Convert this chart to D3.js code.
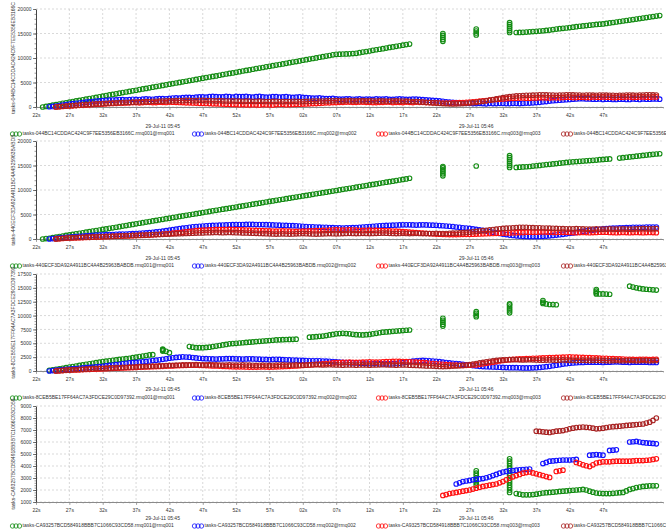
<!DOCTYPE html>
<html>
<head>
<meta charset="utf-8">
<script src="https://cdn.jsdelivr.net/npm/d3@7"></script>
<style>
  html, body { margin: 0; padding: 0; background: #fff; }
  svg { display: block; font-family: "Liberation Sans", Arial, sans-serif; }
</style>
</head>
<body>
<svg id="chart" width="666" height="532"></svg>
<script>
// Queue depth per broker node, sampled twice a second from 05:45:22.
// For every series, the plain array holds the readings taken on the whole
// second (beginning at its "start" second) and the "h" array holds the
// readings taken half a second later; null marks a missing reading.

const queueNames = [
  "tasks-044BC14CDDAC424C9F7EE5356EB3166C",
  "tasks-440ECF3DA92A4911BC4A4B25963BABDB",
  "tasks-8CEB5BE17FF64AC7A3FDCE29C0D97392",
  "tasks-CA93257BCD584918BBB7C1066C93CD58"
];
const nodeNames = ["rmq001", "rmq002", "rmq003", "rmq004"];
const nodeColors = ["#138c13", "#1010ff", "#ff1010", "#a82222"];

const xTickSeconds = [0, 5, 10, 15, 20, 25, 30, 35, 40, 45, 50, 55, 60, 65, 70, 75, 80, 85];
const yTicks1 = [0, 5000, 10000, 15000, 20000];
const yTicks2 = [0, 5000, 10000, 15000, 20000];
const yTicks3 = [0, 2500, 5000, 7500, 10000, 12500, 15000, 17500];
const yTicks4 = [1000, 2000, 3000, 4000, 5000, 6000, 7000, 8000, 9000];

// ---- queue 1 ----
const q1Start = [1, 2, 3, 3];
const q1Node1 = [0,250,480,740,980,1230,1460,1720,1950,2200,
  2460,2690,2950,3180,3420,3690,3920,4170,4400,4660,
  4900,5130,5390,5620,5880,6120,6350,6610,6850,7080,
  7350,7570,7840,8060,8320,8560,8790,9050,9280,9540,
  9790,10010,10280,10510,10760,10820,10850,10950,11200,11430,
  11680,11900,12150,12390,12620,12850,
  null,null,null,null,null,null,null,null,null,null,null,null,null,null,null,
  15200,15250,15350,15450,15550,15700,15900,16050,16200,16400,
  16550,16700,16850,16950,17150,17350,17550,17750,17950,18150,
  18350,18550];
const q1Node1h = [120,370,610,860,1100,1350,1590,1830,2080,2330,
  2570,2820,3060,3300,3560,3800,4040,4290,4530,4780,
  5010,5260,5500,5750,6000,6230,6480,6730,6960,7210,
  7460,7700,7950,8190,8440,8670,8920,9160,9410,9660,
  9900,10150,10390,10640,10790,10830,10900,11080,11310,11560,
  11790,12030,12270,12500,12740,null,
  null,null,null,null,null,null,null,null,null,null,null,null,null,null,null,
  15220,15300,15400,15500,15620,15800,15980,16120,16300,16480,
  16620,16780,16900,17050,17250,17450,17650,17850,18050,18250,
  18450,18650];
const q1Node2 = [50,200,400,600,750,900,1050,1200,1300,
  1400,1450,1500,1500,1550,1600,1600,1650,1700,1750,
  1850,1900,1950,2000,2050,2100,2100,2050,2100,2150,
  2100,2050,2100,2050,2000,2100,2050,2000,2000,1950,
  1850,1800,1750,1700,1650,1600,1650,1600,1550,1600,
  1650,1600,1550,1600,1600,1550,1600,1500,1400,1300,
  1150,1000,900,800,750,700,700,750,700,750,
  700,750,750,800,900,1050,1200,1350,1450,1550,
  1650,1700,1650,1600,1550,1600,1550,1600,1550,1600,
  1650,1600,1650];
const q1Node2h = [120,300,500,680,820,980,1120,1250,1380,
  1420,1520,1450,1580,1520,1650,1580,1700,1680,1820,
  1800,1950,1900,2050,2000,2150,2050,2150,2000,2100,
  2150,2000,2150,2000,2100,2000,2100,1950,2050,1900,
  1800,1850,1700,1750,1600,1650,1580,1650,1600,1550,
  1600,1650,1550,1650,1550,1600,1550,1450,1350,1250,
  1050,950,850,750,700,750,650,700,750,700,
  750,700,800,850,950,1100,1300,1400,1500,1600,
  1700,1650,1600,1650,1600,1550,1600,1550,1650,1550,
  1600,1650,1600];
const q1Node3 = [0,100,200,300,400,450,550,600,
  700,750,800,850,900,900,950,900,950,1000,
  950,900,850,800,750,700,650,600,550,500,
  500,450,450,500,450,500,550,500,550,600,
  650,700,800,850,900,950,1000,950,1000,950,
  900,950,1000,950,900,950,1000,950,900,850,
  800,800,850,900,1000,1100,1250,1400,1550,1650,
  1750,1800,1850,1800,1850,1900,1850,1900,1950,2000,
  1950,2000,1950,2000,2050,2000,1950,2000,2050,2000,
  2050,2000,2050];
const q1Node3h = [50,150,250,350,420,500,580,650,
  720,800,820,900,850,950,900,980,920,980,
  920,850,820,750,720,650,620,550,520,480,
  450,480,420,480,420,520,480,520,580,620,
  700,750,850,900,950,1000,950,1000,950,900,
  950,1000,900,950,1000,900,950,900,850,820,
  780,830,880,950,1050,1180,1320,1480,1600,1700,
  1780,1820,1800,1850,1900,1880,1920,1900,2000,1950,
  2000,1950,2050,2000,2000,1950,2000,2050,1980,2050,
  2000,2050,null];
const q1Node4 = [0,150,250,350,450,550,650,700,
  800,850,900,950,1000,1050,1100,1150,1200,1250,
  1300,1300,1350,1300,1350,1300,1250,1250,1200,1200,
  1150,1200,1150,1150,1100,1150,1100,1100,1150,1100,
  1150,1200,1200,1250,1300,1250,1300,1250,1300,1250,
  1200,1250,1200,1250,1200,1150,1100,1000,900,800,
  700,650,650,700,800,950,1150,1400,1650,1900,
  2100,2250,2350,2400,2450,2500,2450,2400,2450,2500,
  2450,2400,2450,2400,2450,2400,2350,2400,2450,2400,
  2450,2500,2450];
const q1Node4h = [80,200,300,400,500,600,680,750,
  820,880,950,980,1050,1080,1150,1200,1230,1280,
  1320,1350,1300,1380,1300,1280,1300,1220,1230,1180,
  1180,1150,1180,1120,1130,1100,1120,1150,1080,1130,
  1180,1180,1230,1280,1270,1320,1270,1280,1230,1280,
  1230,1220,1230,1200,1180,1120,1050,950,850,750,
  680,620,680,750,880,1050,1280,1520,1780,2000,
  2180,2300,2380,2420,2480,2470,2430,2430,2480,2470,
  2430,2430,2420,2430,2420,2380,2380,2430,2420,2430,
  2480,2470,null];
// several node-1 readings logged within the same second
const q1Bursts = [
  [61, [13400, 13800, 14200, 14600, 15000]],
  [66, [14700, 15100, 15500, 15900]],
  [71, [15200, 15600, 16000, 16400, 16800, 17200]]
];

// ---- queue 2 ----
const q2Start = [1, 2, 3, 3];
const q2Node1 = [0,150,380,600,830,1050,1280,1500,1720,1950,
  2180,2400,2640,2870,3100,3330,3560,3800,4020,4260,
  4480,4710,4940,5170,5400,5630,5850,6080,6300,6520,
  6760,6990,7210,7440,7660,7890,8110,8340,8560,8790,
  9000,9230,9450,9680,9900,10130,10350,10580,10800,11030,
  11250,11480,11700,11930,12150,12400,
  null,null,null,null,null,null,null,null,null,null,null,null,null,null,null,
  14600,14700,14800,14950,15100,15250,15400,15550,15700,15800,
  15900,16000,16100,16250,16350,null,16600,16750,16900,17050,
  17200,17350];
const q2Node1h = [80,270,490,720,940,1170,1390,1610,1840,2060,
  2290,2520,2750,2980,3210,3450,3680,3910,4140,4370,
  4600,4830,5050,5280,5510,5740,5970,6190,6410,6640,
  6870,7100,7320,7550,7770,8000,8220,8450,8670,8900,
  9110,9340,9560,9790,10010,10240,10460,10690,10910,11140,
  11360,11590,11810,12040,12270,null,
  null,null,null,null,null,null,null,null,null,null,null,null,null,null,null,
  14650,14750,14880,15020,15180,15320,15480,15620,15750,15850,
  15950,16050,16180,16300,null,16520,16680,16820,16980,17120,
  17280,17400];
const q2Node2 = [0,150,300,400,500,600,700,800,850,
  900,950,1000,1050,1100,1200,1300,1450,1600,1800,
  2000,2200,2400,2550,2650,2750,2800,2850,2900,2950,
  2950,3000,2950,2950,2900,2850,2800,2750,2700,2600,
  2500,2450,2400,2350,2300,2250,2300,2350,2450,2550,
  2650,2750,2800,2850,2900,2900,2850,2900,2850,2800,
  2700,2600,2450,2300,2150,1950,1750,1500,1250,1000,
  800,650,550,500,500,550,650,800,950,1150,
  1350,1550,1750,1900,2050,2150,2250,2300,2350,2400,
  2400,2450,2450];
const q2Node2h = [80,220,350,450,550,650,750,820,880,
  920,980,1020,1080,1150,1250,1380,1520,1700,1900,
  2100,2300,2480,2600,2700,2780,2830,2880,2930,2960,
  2980,2970,2950,2920,2870,2820,2780,2720,2650,2550,
  2480,2420,2380,2320,2280,2280,2320,2400,2500,2600,
  2700,2780,2830,2880,2900,2880,2880,2870,2830,2750,
  2650,2530,2380,2220,2050,1850,1620,1380,1120,900,
  720,600,520,500,520,600,720,880,1050,1250,
  1450,1650,1820,1980,2100,2200,2280,2320,2380,2400,
  2430,2450,null];
const q2Node3 = [0,100,200,250,300,350,400,450,
  500,550,600,650,700,750,800,900,1000,1100,
  1250,1400,1550,1700,1800,1850,1900,1900,1950,1900,
  1850,1800,1750,1700,1650,1600,1650,1600,1550,1600,
  1650,1700,1750,1800,1850,1800,1850,1800,1750,1800,
  1750,1700,1650,1600,1500,1400,1300,1200,1100,1000,
  950,900,900,950,950,1000,1050,1100,1150,1200,
  1250,1300,1350,1400,1400,1450,1400,1350,1400,1350,
  1300,1350,1300,1350,1400,1350,1300,1350,1300,1350,
  1300,1350,1300];
const q2Node3h = [50,150,220,280,320,380,420,480,
  520,580,620,680,720,780,850,950,1050,1180,
  1320,1480,1620,1750,1820,1880,1900,1930,1920,1870,
  1820,1780,1720,1680,1620,1630,1620,1580,1580,1620,
  1680,1720,1780,1820,1820,1830,1820,1780,1780,1780,
  1720,1680,1620,1550,1450,1350,1250,1150,1050,980,
  920,900,920,950,980,1020,1080,1120,1180,1220,
  1280,1320,1380,1400,1420,1420,1380,1380,1380,1320,
  1320,1320,1320,1380,1380,1320,1320,1320,1320,1320,
  1320,1320,null];
const q2Node4 = [0,150,250,300,350,400,450,500,
  550,600,650,700,750,800,850,900,950,1000,
  1050,1100,1150,1200,1250,1300,1350,1300,1350,1300,
  1250,1200,1150,1100,1050,1000,1050,1000,1050,1100,
  1050,1000,1050,1100,1050,1100,1150,1100,1150,1100,
  1150,1200,1150,1100,1150,1100,1150,1100,1100,1150,
  1100,1150,1200,1300,1400,1550,1700,1850,2000,2150,
  2250,2350,2400,2350,2300,2250,2200,2150,2100,2050,
  2100,2050,2000,2050,2000,2050,2000,2050,2000,2050,
  2100,2050,2100];
const q2Node4h = [80,200,280,320,380,420,480,520,
  580,620,680,720,780,820,880,920,980,1020,
  1080,1120,1180,1220,1280,1320,1320,1320,1320,1280,
  1220,1180,1120,1080,1020,1020,1020,1020,1080,1080,
  1020,1020,1080,1080,1080,1120,1120,1120,1120,1120,
  1180,1180,1120,1120,1120,1120,1120,1100,1120,1120,
  1120,1180,1250,1350,1480,1620,1780,1920,2080,2200,
  2300,2380,2380,2320,2280,2220,2180,2120,2080,2080,
  2080,2020,2020,2020,2020,2020,2020,2020,2020,2080,
  2080,2080,null];
const q2Bursts = [
  [61, [12900, 13300, 13700, 14100, 14500, 14800]],
  [66, [14900]],
  [71, [14600, 15000, 15400, 15800, 16200, 16600, 17000]]
];

// ---- queue 3 ----
const q3Start = [2, 2, 3, 3];
const q3Node1 = [100,300,500,700,900,1100,1300,1500,1700,
  1850,2000,2150,2300,2500,2700,2900,null,3800,3300,
  null,null,4400,4200,4200,4300,4500,4700,4900,5000,
  5100,5200,5300,5400,5500,5600,5650,5700,5750,null,
  6100,6200,6300,6500,6700,6800,6700,6550,6500,6600,
  6800,7000,7100,7200,7300,7400,null,null,null,null,
  null,null,null,null,null,null,null,null,null,null,
  null,null,null,null,null,12200,12000,11950,null,null,
  null,null,null,13900,13900,13850,null,null,15300,15000,
  14800,14700,14600];
const q3Node1h = [200,400,600,800,1000,1200,1400,1600,1780,
  1920,2080,2220,2400,2600,2800,2950,null,3550,null,
  null,null,4300,4200,4250,4400,4600,4800,4950,5050,
  5150,5250,5350,5450,5550,5620,5680,5720,null,null,
  6150,6250,6400,6600,6750,6750,6620,6520,6550,6700,
  6900,7050,7150,7250,7350,null,null,null,null,null,
  null,null,null,null,null,null,null,null,null,null,
  null,null,null,null,null,12100,11980,null,null,null,
  null,null,null,13900,13880,null,null,null,15150,14900,
  14750,14650,null];
const q3Node2 = [0,150,250,350,450,550,650,750,850,
  1000,1150,1300,1450,1550,1650,1800,1950,2100,2300,
  2450,2550,2500,2350,2250,2200,2150,2200,2250,2200,
  2150,2200,2150,2100,2050,2100,2050,2000,1950,1900,
  1850,1850,1800,1750,1650,1550,1500,1450,1400,1350,
  1350,1300,1300,1350,1500,1700,1850,1900,1850,1750,
  1600,1450,1350,1200,1050,900,800,750,700,650,
  600,600,550,550,600,700,850,1050,1250,1400,
  1500,1550,1600,1600,1550,1600,1650,1600,1550,1600,
  1600,1550,1550];
const q3Node2h = [80,200,300,400,500,600,700,800,920,
  1080,1220,1380,1500,1600,1720,1880,2020,2200,2380,
  2500,2530,2420,2300,2230,2180,2180,2230,2230,2180,
  2180,2180,2130,2080,2080,2080,2030,1980,1930,1880,
  1850,1830,1780,1700,1600,1530,1480,1430,1380,1350,
  1330,1300,1330,1420,1600,1780,1880,1880,1800,1680,
  1530,1400,1280,1130,980,850,780,720,680,620,
  600,580,550,580,650,780,950,1150,1330,1450,
  1530,1580,1600,1580,1580,1630,1630,1580,1580,1600,
  1580,1550,null];
const q3Node3 = [0,80,150,200,250,300,350,400,
  450,500,550,600,650,700,750,800,850,900,
  950,1000,1050,1050,1000,950,900,850,800,750,
  750,700,700,750,700,750,800,850,900,1000,
  1100,1200,1300,1400,1500,1550,1600,1550,1600,1650,
  1600,1650,1700,1750,1700,1650,1600,1500,1400,1300,
  1200,1100,1050,1000,1050,1100,1300,1500,1700,1900,
  2050,2150,2200,2250,2300,2350,2400,2450,2500,2550,
  2500,2450,2400,2350,2300,2250,2200,2150,2100,2050,
  2100,2050,2100];
const q3Node3h = [40,120,180,220,280,320,380,420,
  480,520,580,620,680,720,780,820,880,920,
  980,1020,1050,1020,980,920,880,820,780,750,
  720,700,720,720,720,780,820,880,950,1050,
  1150,1250,1350,1450,1520,1580,1580,1580,1620,1620,
  1620,1680,1720,1720,1680,1620,1550,1450,1350,1250,
  1150,1080,1020,1020,1080,1200,1400,1600,1800,1980,
  2100,2180,2220,2280,2320,2380,2420,2480,2520,2520,
  2480,2420,2380,2320,2280,2220,2180,2120,2080,2080,
  2080,2080,null];
const q3Node4 = [0,100,200,250,300,400,450,500,
  550,600,650,700,750,800,850,900,950,1000,
  1050,1100,1100,1150,1100,1150,1100,1050,1100,1050,
  1100,1050,1000,1050,1000,1050,1100,1050,1100,1050,
  1100,1150,1100,1150,1100,1050,1100,1050,1100,1050,
  1100,1150,1100,1050,1100,1050,1000,950,900,850,
  800,850,900,1000,1150,1350,1550,1750,1900,2000,
  2050,2050,2000,2050,2000,1950,2000,1950,2000,1950,
  1900,1950,1900,1950,1900,1850,1900,1850,1900,1850,
  1900,1850,1900];
const q3Node4h = [50,150,220,280,350,420,480,520,
  580,620,680,720,780,820,880,920,980,1020,
  1080,1100,1120,1120,1120,1120,1080,1080,1080,1080,
  1080,1020,1020,1020,1020,1080,1080,1080,1080,1080,
  1120,1120,1120,1120,1080,1080,1080,1080,1080,1080,
  1120,1120,1080,1080,1080,1020,980,920,880,820,
  820,880,950,1080,1250,1450,1650,1820,1950,2020,
  2050,2020,2020,2020,1980,1980,1980,1980,1980,1920,
  1920,1920,1920,1920,1880,1880,1880,1880,1880,1880,
  1880,1880,null];
const q3Bursts = [
  [19, [3600, 3800, 3950]],
  [61, [8100, 8450, 8800, 9150, 9500]],
  [66, [9800, 10100, 10400, 10700]],
  [71, [10500, 10850, 11200, 11550, 11900, 12100]],
  [76, [12700, 12400]],
  [84, [14700, 14400, 14100]]
];

// ---- queue 4 ----
const q4Start = [72, 63, 61, 75];
const q4Node1 = [1700,1600,1600,1650,1750,1800,1850,1900,1950,2000,
  2050,1900,1750,1700,1700,1750,1800,2050,2200,2300,2350,2350];
const q4Node1h = [1650,1600,1620,1700,1780,1820,1880,1920,1980,2020,
  2000,1820,1720,1700,1720,1780,1920,2120,2250,2320,2350,null];
const q4Node2 = [2500,2700,2800,2900,2950,3100,3300,3500,3600,3650,
  3700,3750,null,4200,4400,4450,4500,4500,4550,null,
  4900,4950,4900,5300,5350,null,6000,6050,5950,5900,5850];
const q4Node2h = [2600,2750,2850,2920,3020,3200,3400,3550,3620,3680,
  3720,null,null,4300,4420,4480,4500,4520,null,null,
  4920,4920,null,5320,null,null,6020,6000,5920,5880,null];
const q4Node3 = [1550,1700,1800,1900,2000,2150,2300,2400,2500,2700,
  3000,3200,3400,3500,3350,3200,3050,3550,3650,null,
  4300,4100,3950,4250,4350,4350,4400,4400,4400,4450,
  4450,4500,4600];
const q4Node3h = [1620,1750,1850,1950,2080,2220,2350,2450,2600,2850,
  3100,3300,3450,3420,3280,3120,null,3600,null,null,
  4200,4020,4100,4300,4350,4380,4400,4400,4420,4450,
  4480,4550,null];
const q4Node4 = [6900,6850,6800,6900,6950,7100,7200,7250,7200,7100,
  7150,7250,7300,7350,7400,7450,7500,7650,8000];
const q4Node4h = [6880,6820,6850,6920,7020,7150,7220,7220,7150,7120,
  7200,7280,7320,7380,7420,7480,7580,7800,null];
const q4Bursts = [
  [66, [2400, 2600, 2800, 3000, 3200, 3400, 3600]],
  [71, [1800, 2000, 2200, 2400, 2600, 2800, 3000, 3200, 3400, 3600, 3800, 4000, 4200, 4400, 4600]]
];

// ---------------------------------------------------------------------------
const panels = [
  { name: queueNames[0], start: q1Start, bursts: q1Bursts, yTicks: yTicks1,
    series: [[q1Node1, q1Node1h], [q1Node2, q1Node2h], [q1Node3, q1Node3h], [q1Node4, q1Node4h]],
    top: 9, bottom: 107, dateY: 127, legendY: 134 },
  { name: queueNames[1], start: q2Start, bursts: q2Bursts, yTicks: yTicks2,
    series: [[q2Node1, q2Node1h], [q2Node2, q2Node2h], [q2Node3, q2Node3h], [q2Node4, q2Node4h]],
    top: 141, bottom: 239, dateY: 259, legendY: 266 },
  { name: queueNames[2], start: q3Start, bursts: q3Bursts, yTicks: yTicks3,
    series: [[q3Node1, q3Node1h], [q3Node2, q3Node2h], [q3Node3, q3Node3h], [q3Node4, q3Node4h]],
    top: 274, bottom: 371, dateY: 390, legendY: 398 },
  { name: queueNames[3], start: q4Start, bursts: q4Bursts, yTicks: yTicks4,
    series: [[q4Node1, q4Node1h], [q4Node2, q4Node2h], [q4Node3, q4Node3h], [q4Node4, q4Node4h]],
    top: 406, bottom: 502, dateY: 519, legendY: 526 }
];

const t0 = new Date(2011, 6, 29, 5, 45, 22);
const at = s => new Date(t0.getTime() + s * 1000);
const plotLeft = 36, plotRight = 663;
const x = d3.scaleTime().domain([at(0), at(94)]).range([plotLeft, plotRight]);

const svg = d3.select("#chart");
const fmtSec = d3.timeFormat("%Ss");
const fmtPeriod = d3.timeFormat("%d-%b-%y %H:%M");
const legendX = [10, 192, 376, 561];
const R = 2.3;

panels.forEach(p => {
  const yDomain = d3.extent(p.yTicks);
  const y = d3.scaleLinear().domain(yDomain).range([p.bottom, p.top]);
  const g = svg.append("g");

  // grid
  g.append("g").selectAll("line").data(p.yTicks).join("line")
    .attr("x1", plotLeft).attr("x2", plotRight)
    .attr("y1", d => y(d)).attr("y2", d => y(d))
    .attr("stroke", "#cfcfcf").attr("stroke-width", 0.8).attr("stroke-dasharray", "2,2");
  g.append("g").selectAll("line").data(xTickSeconds.slice(1)).join("line")
    .attr("x1", d => x(at(d))).attr("x2", d => x(at(d)))
    .attr("y1", p.top).attr("y2", p.bottom)
    .attr("stroke", "#cfcfcf").attr("stroke-width", 0.8).attr("stroke-dasharray", "2,2");

  // axes
  const xMinor = g.append("g").attr("transform", `translate(0,${p.bottom})`)
    .call(d3.axisBottom(x).ticks(d3.timeSecond.every(1)).tickSize(1.5).tickFormat(""));
  xMinor.select(".domain").remove();
  xMinor.selectAll("line").attr("stroke", "#888").attr("stroke-width", 0.6);

  const xAxis = g.append("g").attr("transform", `translate(0,${p.bottom})`)
    .call(d3.axisBottom(x).tickValues(xTickSeconds.map(at)).tickFormat(fmtSec)
      .tickSize(3).tickPadding(3.5).tickSizeOuter(0));
  xAxis.select(".domain").attr("stroke", "#8a8a8a").attr("stroke-width", 1);
  xAxis.selectAll(".tick line").attr("stroke", "#8a8a8a").attr("stroke-width", 0.7);
  xAxis.selectAll("text").attr("font-size", 5).attr("fill", "#333");

  const yStep = p.yTicks[1] - p.yTicks[0];
  const yMinor = g.append("g").attr("transform", `translate(${plotLeft},0)`)
    .call(d3.axisLeft(y).tickValues(d3.range(yDomain[0], yDomain[1] + 1, yStep / 5)).tickSize(1.5).tickFormat(""));
  yMinor.select(".domain").remove();
  yMinor.selectAll("line").attr("stroke", "#555").attr("stroke-width", 0.6);

  const yAxis = g.append("g").attr("transform", `translate(${plotLeft},0)`)
    .call(d3.axisLeft(y).tickValues(p.yTicks).tickFormat(d3.format("d"))
      .tickSize(3).tickPadding(1.5).tickSizeOuter(0));
  yAxis.select(".domain").attr("stroke", "#444").attr("stroke-width", 1);
  yAxis.selectAll(".tick line").attr("stroke", "#444").attr("stroke-width", 0.7);
  yAxis.selectAll("text").attr("font-size", 5).attr("fill", "#333");

  // rotated axis title
  g.append("text")
    .attr("transform", `translate(14,${(p.top + p.bottom) / 2}) rotate(-90)`)
    .attr("text-anchor", "middle").attr("dominant-baseline", "middle")
    .attr("font-size", 5).attr("fill", "#333").text(p.name);

  // minute period labels, centred on the visible part of each minute
  const [d0, d1] = x.domain();
  d3.timeMinute.range(d3.timeMinute.floor(d0), d1).forEach(m => {
    const a = m < d0 ? d0 : m;
    const next = d3.timeMinute.offset(m, 1);
    const b = next > d1 ? d1 : next;
    g.append("text")
      .attr("x", (x(a) + x(b)) / 2).attr("y", p.dateY)
      .attr("text-anchor", "middle").attr("dominant-baseline", "middle")
      .attr("font-size", 5).attr("fill", "#333").text(fmtPeriod(m));
  });

  // readings
  p.series.forEach(([whole, half], k) => {
    const pts = [];
    whole.forEach((v, i) => { if (v != null) pts.push({ t: at(p.start[k] + i), v }); });
    half.forEach((v, i) => { if (v != null) pts.push({ t: at(p.start[k] + i + 0.5), v }); });
    if (k === 0) p.bursts.forEach(([s, vs]) => vs.forEach(v => pts.push({ t: at(s), v })));
    g.append("g").selectAll("circle").data(pts).join("circle")
      .attr("cx", d => x(d.t)).attr("cy", d => y(d.v)).attr("r", R)
      .attr("fill", "none").attr("stroke", nodeColors[k]).attr("stroke-width", 1.1);
  });

  // legend
  nodeNames.forEach((n, k) => {
    const lg = g.append("g").attr("transform", `translate(${legendX[k]},${p.legendY})`);
    [2.5, 6, 9.5].forEach(cx => lg.append("circle").attr("cx", cx).attr("cy", 0).attr("r", 2.2)
      .attr("fill", "none").attr("stroke", nodeColors[k]).attr("stroke-width", 0.8));
    lg.append("text").attr("x", 12.5).attr("y", 0).attr("dominant-baseline", "middle")
      .attr("font-size", 5).attr("fill", "#333").text(`${p.name}.${n}@${n}`);
  });
});
</script>
</body>
</html>
